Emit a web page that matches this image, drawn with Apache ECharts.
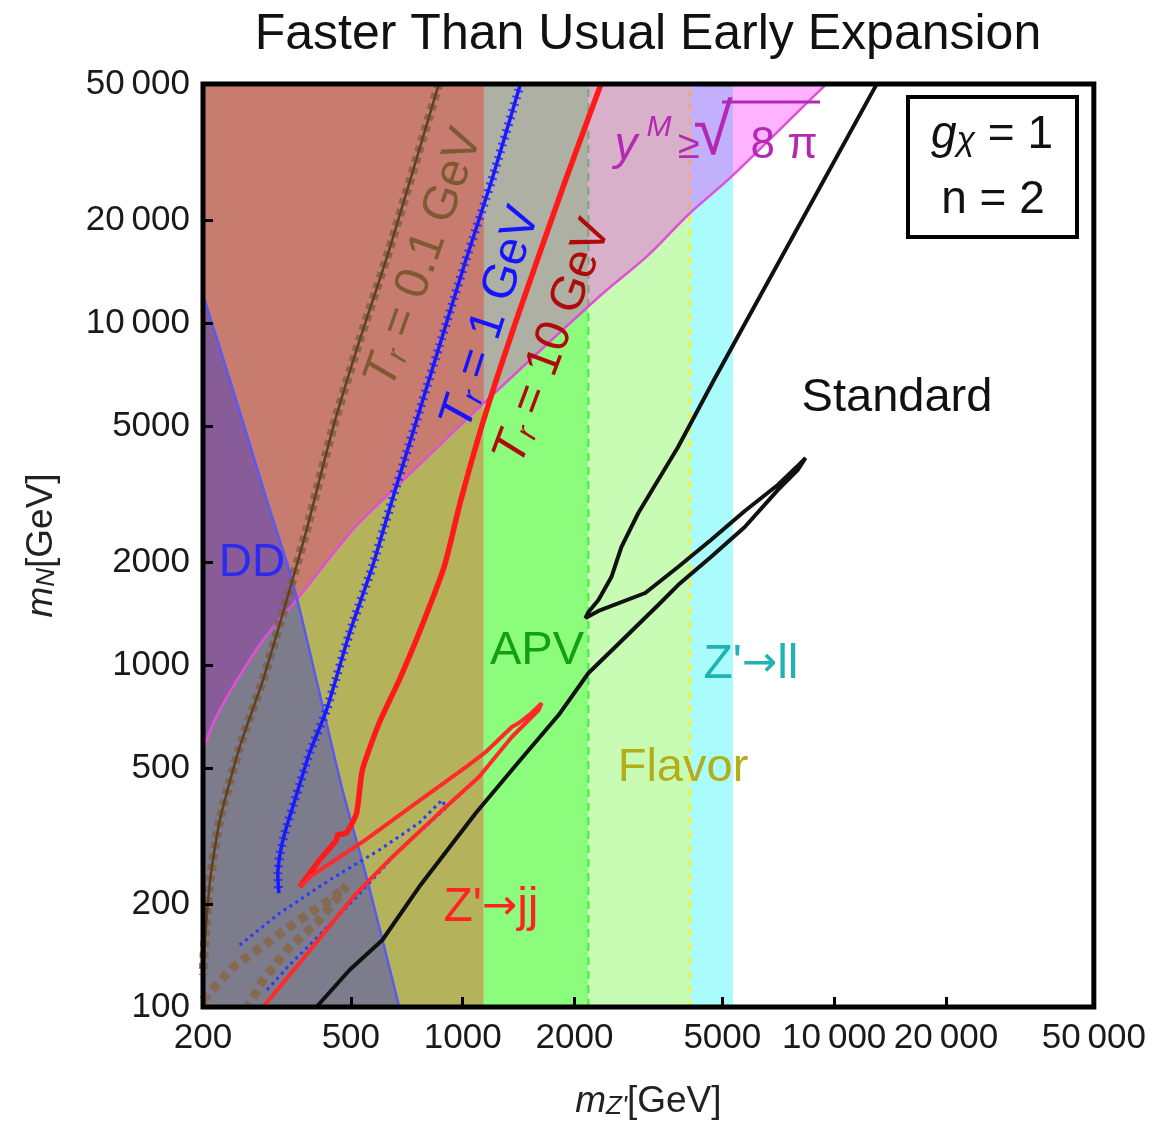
<!DOCTYPE html>
<html>
<head>
<meta charset="utf-8">
<title>Faster Than Usual Early Expansion</title>
<script src="https://cdn.jsdelivr.net/npm/echarts@6/dist/echarts.min.js"></script>
<style>
html, body { margin: 0; padding: 0; background: #fff; }
#main { width: 1149px; height: 1125px; }
</style>
</head>
<body>
<div id="main"></div>
<script>
var F = 'Liberation Sans, Arial, sans-serif';

// tick labels
var xTicks = [200, 500, 1000, 2000, 5000, 10000, 20000, 50000];
var yTicks = [100, 200, 500, 1000, 2000, 5000, 10000, 20000, 50000];

// vertical exclusion bands (m_Z' edges): jj/olive, APV, Flavor, Z'->ll
var bandEdges = [200, 1140, 2180, 4090, 5340];

// y^M >= sqrt(8 pi) boundary
var pinkX = [200, 215, 247, 293, 357, 505, 662, 1140, 2320, 3160, 4040, 5270, 9590, 14800, 60000];
var pinkY = [560, 690, 904, 1200, 1549, 2480, 3310, 5830, 11900, 15800, 20700, 26700, 50300, 77900, 350000];

// direct detection boundary
var ddX = [200, 241, 297, 349, 404, 475, 551, 675];
var ddY = [12080, 6370, 3040, 1740, 904, 431, 240, 100];

// T_r = 0.1 GeV
var tr01X = [864, 634, 518, 446, 380, 336, 290, 251, 222, 209, 202.5, 200];
var tr01Y = [50300, 16350, 8340, 4865, 2481, 1549, 904, 575, 352, 235, 157, 124];
var tr01LowX = [200, 241, 297, 364, 446, 486, 466, 404, 336, 290, 264];
var tr01LowY = [104.8, 130.9, 153.9, 179.7, 208.3, 225.9, 212.6, 176, 146.8, 119.9, 100];

// T_r = 1 GeV
var tr1X = [1433, 1198, 1014, 864, 646, 571, 496, 430, 387, 357, 332, 322, 318, 320];
var tr1Y = [50300, 26190, 14980, 8507, 3037, 1934, 1240, 738.6, 553, 416.9, 322.7, 278.3, 243.2, 215.4];
var tr1LowX = [251, 322, 438, 596, 763, 880, 902, 675, 518, 412, 342, 297];
var tr1LowY = [151.8, 188.3, 235, 287.8, 345.1, 403, 381.9, 287.8, 209.7, 162.4, 132.7, 112.1];

// T_r = 10 GeV
var tr10X = [2362, 1892, 1416, 1154, 989, 891, 763, 675, 596, 537, 518, 486, 460, 457, 412, 364];
var tr10Y = [50300, 26190, 10700, 5456, 3037, 1934, 1240, 904, 676.8, 493, 369, 322.7, 318.4, 307.7, 269, 224.3];

// Z' -> jj contour
var jjX = [364, 394, 537, 763, 1020, 1154, 1356, 1416, 1533, 1631, 1602, 1356, 1106, 864, 634, 518, 364, 290];
var jjY = [224.3, 243.2, 303.7, 400.3, 503, 556.7, 658.7, 676.8, 723.8, 774, 738.6, 615.9, 470.4, 369, 269, 215.4, 134.5, 100];

// standard cosmology contour
var stdX = [13060, 4746, 3800, 2970, 2674, 2514, 2320, 2181, 2140,
            2320, 3100, 3800, 4658, 5746, 7048, 7972, 8376,
            7972, 7048, 5746, 4658, 3800, 3360, 2624, 2181, 1812, 1407, 1085, 763, 608, 496, 404];
var stdY = [50300, 6813, 4340, 2783, 2213, 1808, 1549, 1429, 1372,
            1439, 1624, 1934, 2320, 2820, 3360, 3818, 4030,
            3717, 3248, 2532, 2069, 1713, 1498, 1152, 947.6, 714, 517, 369, 224.3, 157, 128.3, 100];

function zip(xs, ys) {
    return xs.map(function (x, i) { return [x, ys[i]]; });
}

function pinkAt(x) {
    var lx = Math.log(x);
    for (var i = 0; i < pinkX.length - 1; i++) {
        var a = Math.log(pinkX[i]), b = Math.log(pinkX[i + 1]);
        if (lx >= a && lx <= b) {
            var t = (lx - a) / (b - a);
            return Math.exp(Math.log(pinkY[i]) + t * (Math.log(pinkY[i + 1]) - Math.log(pinkY[i])));
        }
    }
    return pinkY[pinkY.length - 1];
}

function abovePink(x1, x2) {
    var pts = [[x1, pinkAt(x1)]];
    for (var i = 0; i < pinkX.length; i++) {
        if (pinkX[i] > x1 && pinkX[i] < x2) pts.push([pinkX[i], pinkY[i]]);
    }
    pts.push([x2, pinkAt(x2)]);
    pts.push([x2, 1e6]);
    pts.push([x1, 1e6]);
    return pts;
}

function polySeries(pts, fill, z) {
    return {
        type: 'custom', coordinateSystem: 'cartesian2d', clip: true, silent: true, z: z,
        data: [[1000, 1000]],
        renderItem: function (params, api) {
            return {
                type: 'polygon',
                shape: { points: pts.map(function (p) { return api.coord(p); }) },
                style: { fill: fill }
            };
        }
    };
}

function lineSeries(pts, color, width, type, z, smooth) {
    return {
        type: 'line', data: pts, symbol: 'none', silent: true, z: z, smooth: smooth || false,
        lineStyle: { color: color, width: width, type: type || 'solid' },
        animation: false
    };
}

function fmt(v) {
    v = Math.round(v);
    return v >= 10000 ? (v / 1000) + '\u2009000' : String(v);
}

var bandColors = ['#b4b25a', '#8cfc7c', '#c8fcb4', '#aafcfc'];
var series = [];
for (var i = 0; i < bandColors.length; i++) {
    var a = bandEdges[i], b = bandEdges[i + 1];
    series.push(polySeries([[a, 100], [b, 100], [b, 50000], [a, 50000]], bandColors[i], 1));
}
series.push(polySeries(abovePink(bandEdges[0], bandEdges[1]), '#c87c70', 2));
series.push(lineSeries([[bandEdges[2], 100], [bandEdges[2], 50000]], '#40ee40', 2, [8, 6], 3));
series.push(lineSeries([[bandEdges[3], 100], [bandEdges[3], 50000]], '#f0f040', 2.5, [8, 6], 3));
series.push(polySeries(abovePink(bandEdges[1], 60000), 'rgba(255,0,255,0.3)', 4));
series.push(polySeries(zip(ddX, ddY).concat([[200, 100]]), 'rgba(40,43,215,0.4)', 5));
series.push(lineSeries(zip(pinkX, pinkY), '#e14fd8', 2.5, 'solid', 6, 0.3));
series.push(lineSeries(zip(ddX, ddY), '#5a5af0', 2.5, 'solid', 6, 0.3));

// T_r = 0.1 GeV
series.push(lineSeries(zip(tr01X, tr01Y), 'rgba(125,95,65,0.8)', 9, [6, 5], 7, 0.2));
series.push(lineSeries(zip(tr01X, tr01Y), '#5e4022', 2.5, 'solid', 7, 0.2));
series.push(lineSeries(zip(tr01LowX, tr01LowY), 'rgba(135,100,65,0.8)', 9, [8, 6], 7));
// T_r = 1 GeV
series.push(lineSeries(zip(tr1X, tr1Y), 'rgba(40,40,255,0.85)', 9, [2, 5], 7, 0.2));
series.push(lineSeries(zip(tr1X, tr1Y), '#1a1aff', 3.5, 'solid', 7, 0.2));
series.push(lineSeries(zip(tr1LowX, tr1LowY), '#2a3aff', 3, [3, 4], 7));
// T_r = 10 GeV and Z'->jj
series.push(lineSeries(zip(tr10X, tr10Y), '#ff1a1a', 5.5, 'solid', 8, 0.2));
series.push(lineSeries(zip(jjX, jjY), '#ff2a2a', 4, 'solid', 8));
// standard
series.push(lineSeries(zip(stdX, stdY), '#111', 4, 'solid', 8));

function txt(x, y, text, size, color, extra) {
    var st = { text: text, fontSize: size, fontFamily: F, fill: color, align: 'center', verticalAlign: 'middle' };
    for (var k in (extra || {})) st[k] = extra[k];
    return { type: 'text', x: x, y: y, z: 100, silent: true, style: st };
}

function trLabel(x, y, deg, rest, color) {
    var el = txt(x, y, '{a|T}{b|r}{c| = ' + rest + '}', 48, color, {
        rich: {
            a: { fontSize: 48, fontStyle: 'italic', fontFamily: F, fill: color, lineHeight: 48 },
            b: { fontSize: 31, fontStyle: 'italic', fontFamily: F, fill: color, verticalAlign: 'bottom', lineHeight: 20 },
            c: { fontSize: 48, fontFamily: F, fill: color, lineHeight: 48 }
        }
    });
    el.rotation = deg * Math.PI / 180;
    return el;
}

function arrowLabel(x, y, left, right, color) {
    return txt(x, y, '{a|' + left + '}{b|\u2192}{a|' + right + '}', 48, color, {
        rich: {
            a: { fontSize: 48, fontFamily: F, fill: color },
            b: { fontSize: 42, fontFamily: 'DejaVu Sans', fill: color }
        }
    });
}

var graphics = [
    txt(648, 35, 'Faster Than Usual Early Expansion', 50, '#111'),
    trLabel(424, 258, 70.5, '0.1 GeV', '#7d5a32'),
    trLabel(491, 318, 72, '1 GeV', '#1414ff'),
    trLabel(553, 342, 69.5, '10 GeV', '#b00a0a'),
    txt(252, 563, 'DD', 46, '#2a2af0'),
    txt(897, 398, 'Standard', 47, '#111'),
    txt(537, 651, 'APV', 47, '#12a012'),
    arrowLabel(751, 665, 'Z\'', 'll', '#1fb3b3'),
    txt(683, 768, 'Flavor', 47, '#b3ad1a'),
    arrowLabel(491, 908, 'Z\'', 'jj', '#ff2222'),
    txt(626, 146, 'y', 46, '#b428b4', { fontStyle: 'italic' }),
    txt(659, 128, 'M', 30, '#b428b4', { fontStyle: 'italic' }),
    txt(689, 147, '\u2265', 40, '#b428b4'),
    txt(713, 134, '\u221A', 72, '#b428b4'),
    txt(784, 146, '8 \u03C0', 44, '#b428b4'),
    { type: 'line', z: 100, silent: true, shape: { x1: 722, y1: 102, x2: 820, y2: 102 },
      style: { stroke: '#b428b4', lineWidth: 3 } },
    { type: 'rect', z: 99, silent: true, shape: { x: 908, y: 97, width: 169, height: 140 },
      style: { fill: '#fff', stroke: '#000', lineWidth: 4 } },
    txt(992, 135, '{g|g}{s|\u03C7}{n| = 1}', 46, '#111', {
        rich: {
            g: { fontSize: 46, fontStyle: 'italic', fontFamily: F, fill: '#111', lineHeight: 46 },
            s: { fontSize: 34, fontStyle: 'italic', fontFamily: F, fill: '#111', verticalAlign: 'bottom', lineHeight: 22 },
            n: { fontSize: 46, fontFamily: F, fill: '#111', lineHeight: 46 }
        }
    }),
    txt(993, 200, 'n = 2', 46, '#111')
];

var nameRich = {
    i: { fontSize: 37, fontStyle: 'italic', fontFamily: F, color: '#222', lineHeight: 37 },
    s: { fontSize: 26, fontStyle: 'italic', fontFamily: F, color: '#222', verticalAlign: 'bottom', lineHeight: 17 },
    n: { fontSize: 37, fontFamily: F, color: '#222', lineHeight: 37 }
};

var myChart = echarts.init(document.getElementById('main'));
var option = {
    animation: false,
    backgroundColor: '#fff',
    grid: { left: 203, right: 52, top: 84, bottom: 118, show: true, z: 10,
            borderColor: '#000', borderWidth: 5, backgroundColor: 'transparent' },
    xAxis: {
        type: 'log', logBase: 10, min: 200, max: 50000, z: 10,
        axisLine: { show: false },
        axisTick: { inside: true, length: 10, lineStyle: { color: '#000', width: 3 }, customValues: xTicks },
        axisLabel: { customValues: xTicks, formatter: fmt, fontSize: 35, color: '#1a1a1a', fontFamily: F, margin: 14 },
        splitLine: { show: false },
        name: '{i|m}{s|Z\'}{n|[GeV]}', nameLocation: 'middle', nameGap: 76,
        nameTextStyle: { rich: nameRich }
    },
    yAxis: {
        type: 'log', logBase: 10, min: 100, max: 50000, z: 10,
        axisLine: { show: false },
        axisTick: { inside: true, length: 10, lineStyle: { color: '#000', width: 3 }, customValues: yTicks },
        axisLabel: { customValues: yTicks, formatter: fmt, fontSize: 35, color: '#1a1a1a', fontFamily: F, margin: 13 },
        splitLine: { show: false },
        name: '{i|m}{s|N}{n|[GeV]}', nameLocation: 'middle', nameRotate: 90, nameGap: 143,
        nameTextStyle: { rich: nameRich }
    },
    series: series,
    graphic: graphics
};
myChart.setOption(option);
</script>
</body>
</html>
